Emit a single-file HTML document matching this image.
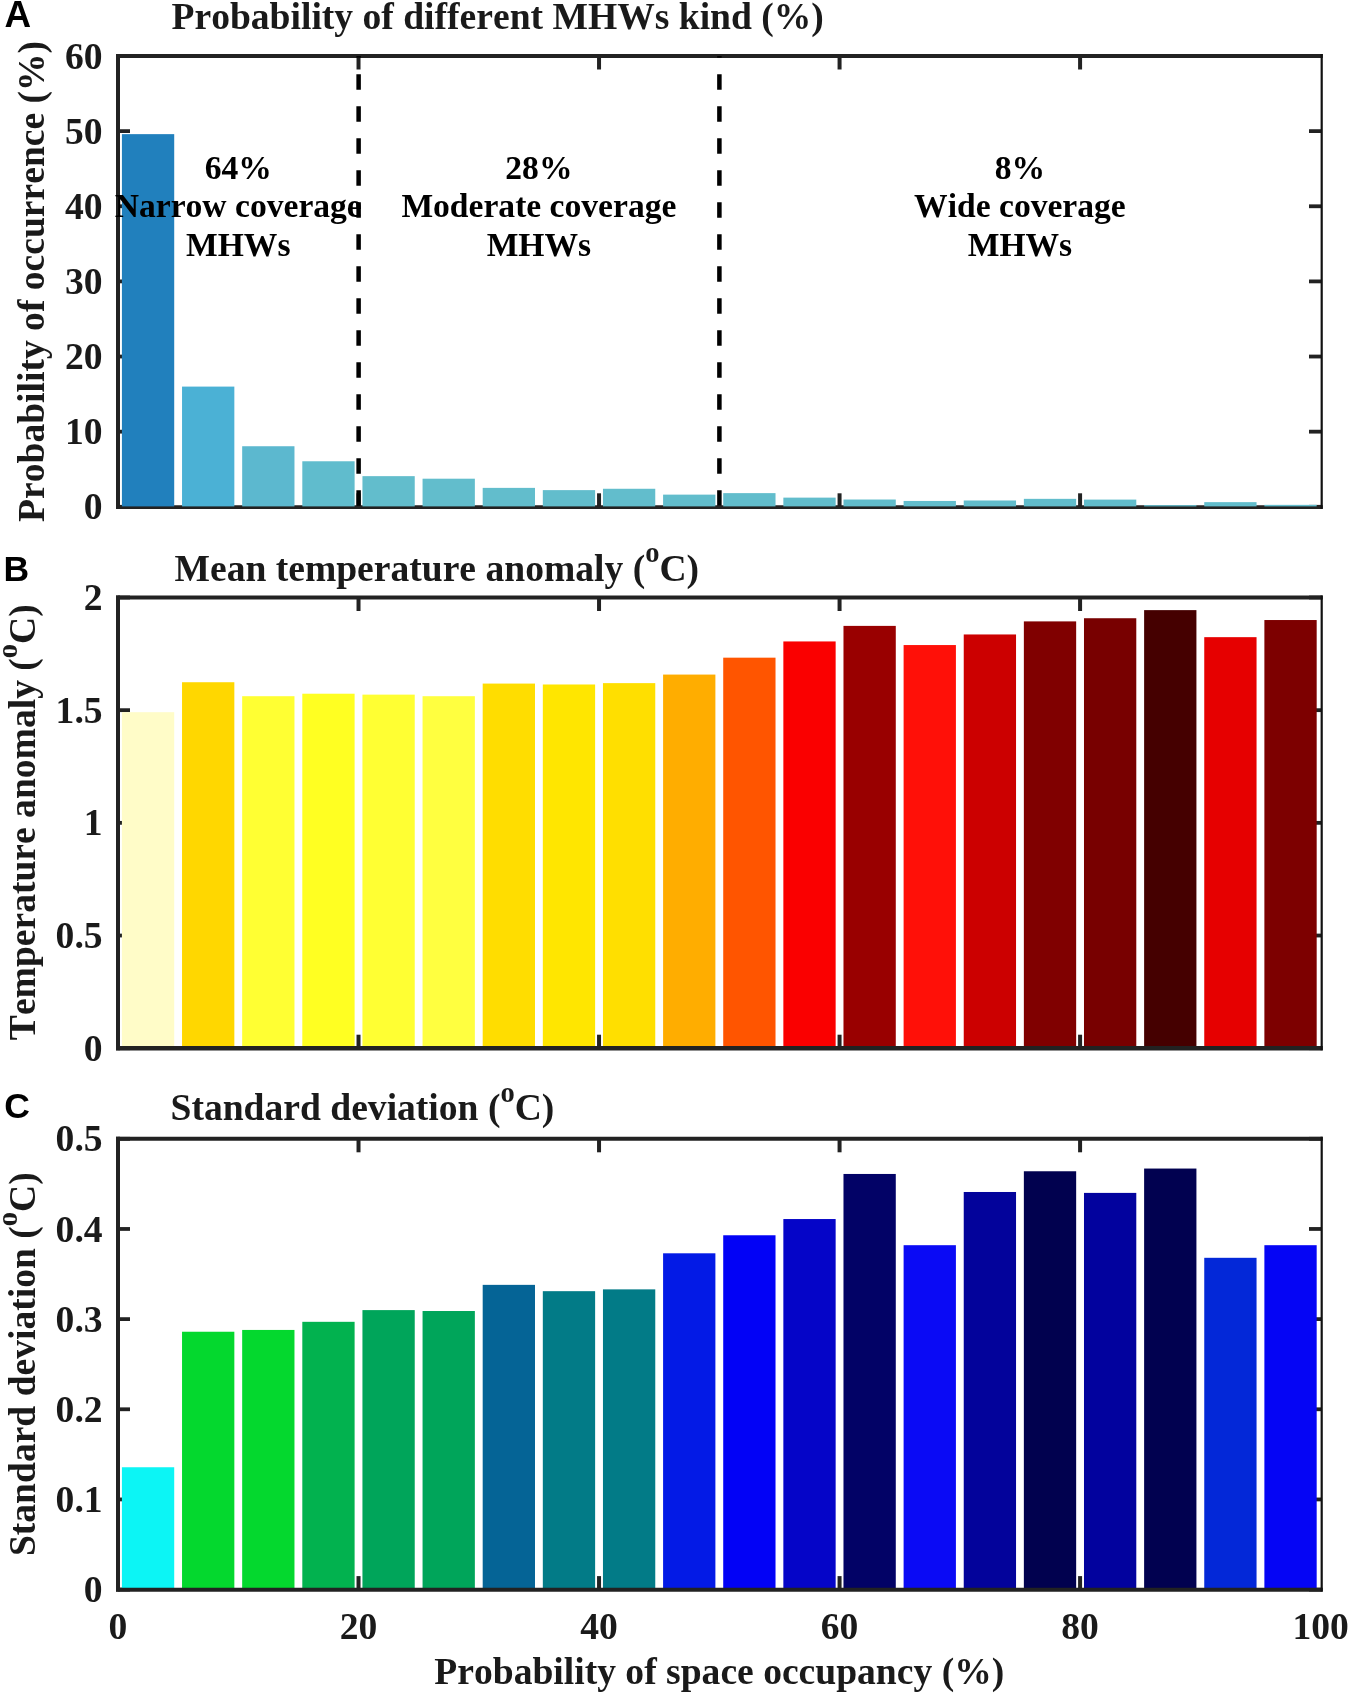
<!DOCTYPE html>
<html><head><meta charset="utf-8"><style>
html,body{margin:0;padding:0;background:#fff;}
svg{display:block;will-change:transform;}
text{font-kerning:none;font-feature-settings:'kern' 0;}
.t{font-family:"Liberation Serif", serif;font-weight:bold;font-size:37.6px;fill:#1a1a1a;}
.a{font-family:"Liberation Serif", serif;font-weight:bold;font-size:33.6px;fill:#000;}
.sup{font-size:28.5px;}
.L{font-family:"Liberation Sans", sans-serif;font-weight:bold;font-size:35.5px;fill:#000;}
</style></head><body>
<svg width="1350" height="1695" viewBox="0 0 1350 1695">
<rect width="1350" height="1695" fill="#fff"/>
<line x1="118.00" y1="506.80" x2="130.00" y2="506.80" stroke="#222222" stroke-width="3.8"/>
<line x1="1321.7" y1="506.80" x2="1309" y2="506.80" stroke="#222222" stroke-width="3.8"/>
<line x1="118.00" y1="431.67" x2="130.00" y2="431.67" stroke="#222222" stroke-width="3.8"/>
<line x1="1321.7" y1="431.67" x2="1309" y2="431.67" stroke="#222222" stroke-width="3.8"/>
<line x1="118.00" y1="356.53" x2="130.00" y2="356.53" stroke="#222222" stroke-width="3.8"/>
<line x1="1321.7" y1="356.53" x2="1309" y2="356.53" stroke="#222222" stroke-width="3.8"/>
<line x1="118.00" y1="281.40" x2="130.00" y2="281.40" stroke="#222222" stroke-width="3.8"/>
<line x1="1321.7" y1="281.40" x2="1309" y2="281.40" stroke="#222222" stroke-width="3.8"/>
<line x1="118.00" y1="206.27" x2="130.00" y2="206.27" stroke="#222222" stroke-width="3.8"/>
<line x1="1321.7" y1="206.27" x2="1309" y2="206.27" stroke="#222222" stroke-width="3.8"/>
<line x1="118.00" y1="131.13" x2="130.00" y2="131.13" stroke="#222222" stroke-width="3.8"/>
<line x1="1321.7" y1="131.13" x2="1309" y2="131.13" stroke="#222222" stroke-width="3.8"/>
<line x1="118.00" y1="56.00" x2="130.00" y2="56.00" stroke="#222222" stroke-width="3.8"/>
<line x1="1321.7" y1="56.00" x2="1309" y2="56.00" stroke="#222222" stroke-width="3.8"/>
<line x1="358.52" y1="506.80" x2="358.52" y2="493.30" stroke="#222222" stroke-width="4"/>
<line x1="358.52" y1="56.00" x2="358.52" y2="69.50" stroke="#222222" stroke-width="4"/>
<line x1="599.04" y1="506.80" x2="599.04" y2="493.30" stroke="#222222" stroke-width="4"/>
<line x1="599.04" y1="56.00" x2="599.04" y2="69.50" stroke="#222222" stroke-width="4"/>
<line x1="839.56" y1="506.80" x2="839.56" y2="493.30" stroke="#222222" stroke-width="4"/>
<line x1="839.56" y1="56.00" x2="839.56" y2="69.50" stroke="#222222" stroke-width="4"/>
<line x1="1080.08" y1="506.80" x2="1080.08" y2="493.30" stroke="#222222" stroke-width="4"/>
<line x1="1080.08" y1="56.00" x2="1080.08" y2="69.50" stroke="#222222" stroke-width="4"/>
<line x1="116.00" y1="507.05" x2="1322.8" y2="507.05" stroke="#222222" stroke-width="3.7"/>
<rect x="121.91" y="134.14" width="52.30" height="372.26" fill="#2180bd"/>
<rect x="182.04" y="386.59" width="52.30" height="119.81" fill="#4bb1d5"/>
<rect x="242.17" y="446.24" width="52.30" height="60.16" fill="#5cb8cf"/>
<rect x="302.31" y="461.27" width="52.30" height="45.13" fill="#60bccd"/>
<rect x="362.44" y="476.15" width="52.30" height="30.25" fill="#62bdcc"/>
<rect x="422.56" y="478.70" width="52.30" height="27.70" fill="#62bdcc"/>
<rect x="482.69" y="487.87" width="52.30" height="18.53" fill="#62bdcc"/>
<rect x="542.82" y="490.12" width="52.30" height="16.28" fill="#62bdcc"/>
<rect x="602.96" y="488.77" width="52.30" height="17.63" fill="#62bdcc"/>
<rect x="663.09" y="494.63" width="52.30" height="11.77" fill="#62bdcc"/>
<rect x="723.22" y="493.13" width="52.30" height="13.27" fill="#62bdcc"/>
<rect x="783.35" y="497.63" width="52.30" height="8.77" fill="#62bdcc"/>
<rect x="843.48" y="499.51" width="52.30" height="6.89" fill="#62bdcc"/>
<rect x="903.61" y="500.94" width="52.30" height="5.46" fill="#62bdcc"/>
<rect x="963.74" y="500.49" width="52.30" height="5.91" fill="#62bdcc"/>
<rect x="1023.86" y="498.84" width="52.30" height="7.56" fill="#62bdcc"/>
<rect x="1083.99" y="499.59" width="52.30" height="6.81" fill="#62bdcc"/>
<rect x="1144.12" y="505.15" width="52.30" height="1.25" fill="#62bdcc"/>
<rect x="1204.25" y="502.14" width="52.30" height="4.26" fill="#62bdcc"/>
<rect x="1264.38" y="504.85" width="52.30" height="1.55" fill="#62bdcc"/>
<line x1="116.00" y1="56.00" x2="1322.8" y2="56.00" stroke="#222222" stroke-width="4"/>
<line x1="118.00" y1="54.00" x2="118.00" y2="508.80" stroke="#222222" stroke-width="4"/>
<line x1="1321.7" y1="54.00" x2="1321.7" y2="508.80" stroke="#111" stroke-width="2.2"/>
<text x="102.6" y="519.40" text-anchor="end" class="t">0</text>
<text x="102.6" y="444.27" text-anchor="end" class="t">10</text>
<text x="102.6" y="369.13" text-anchor="end" class="t">20</text>
<text x="102.6" y="294.00" text-anchor="end" class="t">30</text>
<text x="102.6" y="218.87" text-anchor="end" class="t">40</text>
<text x="102.6" y="143.73" text-anchor="end" class="t">50</text>
<text x="102.6" y="68.60" text-anchor="end" class="t">60</text>
<line x1="118.00" y1="1048.20" x2="130.00" y2="1048.20" stroke="#222222" stroke-width="3.8"/>
<line x1="1321.7" y1="1048.20" x2="1309" y2="1048.20" stroke="#222222" stroke-width="3.8"/>
<line x1="118.00" y1="935.53" x2="130.00" y2="935.53" stroke="#222222" stroke-width="3.8"/>
<line x1="1321.7" y1="935.53" x2="1309" y2="935.53" stroke="#222222" stroke-width="3.8"/>
<line x1="118.00" y1="822.85" x2="130.00" y2="822.85" stroke="#222222" stroke-width="3.8"/>
<line x1="1321.7" y1="822.85" x2="1309" y2="822.85" stroke="#222222" stroke-width="3.8"/>
<line x1="118.00" y1="710.17" x2="130.00" y2="710.17" stroke="#222222" stroke-width="3.8"/>
<line x1="1321.7" y1="710.17" x2="1309" y2="710.17" stroke="#222222" stroke-width="3.8"/>
<line x1="118.00" y1="597.50" x2="130.00" y2="597.50" stroke="#222222" stroke-width="3.8"/>
<line x1="1321.7" y1="597.50" x2="1309" y2="597.50" stroke="#222222" stroke-width="3.8"/>
<line x1="358.52" y1="1048.20" x2="358.52" y2="1034.70" stroke="#222222" stroke-width="4"/>
<line x1="358.52" y1="597.50" x2="358.52" y2="611.00" stroke="#222222" stroke-width="4"/>
<line x1="599.04" y1="1048.20" x2="599.04" y2="1034.70" stroke="#222222" stroke-width="4"/>
<line x1="599.04" y1="597.50" x2="599.04" y2="611.00" stroke="#222222" stroke-width="4"/>
<line x1="839.56" y1="1048.20" x2="839.56" y2="1034.70" stroke="#222222" stroke-width="4"/>
<line x1="839.56" y1="597.50" x2="839.56" y2="611.00" stroke="#222222" stroke-width="4"/>
<line x1="1080.08" y1="1048.20" x2="1080.08" y2="1034.70" stroke="#222222" stroke-width="4"/>
<line x1="1080.08" y1="597.50" x2="1080.08" y2="611.00" stroke="#222222" stroke-width="4"/>
<rect x="121.91" y="712.20" width="52.30" height="334.00" fill="#fffcc8"/>
<rect x="182.04" y="682.23" width="52.30" height="363.97" fill="#ffd700"/>
<rect x="242.17" y="696.20" width="52.30" height="350.00" fill="#ffff33"/>
<rect x="302.31" y="693.72" width="52.30" height="352.48" fill="#ffff22"/>
<rect x="362.44" y="694.63" width="52.30" height="351.57" fill="#ffff33"/>
<rect x="422.56" y="696.20" width="52.30" height="350.00" fill="#ffff40"/>
<rect x="482.69" y="683.58" width="52.30" height="362.62" fill="#ffdd00"/>
<rect x="542.82" y="684.49" width="52.30" height="361.71" fill="#ffe600"/>
<rect x="602.96" y="683.13" width="52.30" height="363.07" fill="#ffdf00"/>
<rect x="663.09" y="674.57" width="52.30" height="371.63" fill="#ffad00"/>
<rect x="723.22" y="657.67" width="52.30" height="388.53" fill="#ff5500"/>
<rect x="783.35" y="641.44" width="52.30" height="404.76" fill="#fa0000"/>
<rect x="843.48" y="625.89" width="52.30" height="420.31" fill="#990000"/>
<rect x="903.61" y="645.05" width="52.30" height="401.15" fill="#ff1008"/>
<rect x="963.74" y="634.46" width="52.30" height="411.74" fill="#cc0000"/>
<rect x="1023.86" y="621.39" width="52.30" height="424.81" fill="#800000"/>
<rect x="1083.99" y="618.23" width="52.30" height="427.97" fill="#780000"/>
<rect x="1144.12" y="610.12" width="52.30" height="436.08" fill="#450000"/>
<rect x="1204.25" y="637.16" width="52.30" height="409.04" fill="#e60000"/>
<rect x="1264.38" y="620.03" width="52.30" height="426.17" fill="#7d0000"/>
<line x1="116.00" y1="597.50" x2="1322.8" y2="597.50" stroke="#222222" stroke-width="4"/>
<line x1="116.00" y1="1048.30" x2="1322.8" y2="1048.30" stroke="#222222" stroke-width="4.4"/>
<line x1="118.00" y1="595.50" x2="118.00" y2="1050.20" stroke="#222222" stroke-width="4"/>
<line x1="1321.7" y1="595.50" x2="1321.7" y2="1050.20" stroke="#111" stroke-width="2.2"/>
<text x="102.6" y="1060.80" text-anchor="end" class="t">0</text>
<text x="102.6" y="948.13" text-anchor="end" class="t">0.5</text>
<text x="102.6" y="835.45" text-anchor="end" class="t">1</text>
<text x="102.6" y="722.77" text-anchor="end" class="t">1.5</text>
<text x="102.6" y="610.10" text-anchor="end" class="t">2</text>
<line x1="118.00" y1="1589.60" x2="130.00" y2="1589.60" stroke="#222222" stroke-width="3.8"/>
<line x1="1321.7" y1="1589.60" x2="1309" y2="1589.60" stroke="#222222" stroke-width="3.8"/>
<line x1="118.00" y1="1499.44" x2="130.00" y2="1499.44" stroke="#222222" stroke-width="3.8"/>
<line x1="1321.7" y1="1499.44" x2="1309" y2="1499.44" stroke="#222222" stroke-width="3.8"/>
<line x1="118.00" y1="1409.28" x2="130.00" y2="1409.28" stroke="#222222" stroke-width="3.8"/>
<line x1="1321.7" y1="1409.28" x2="1309" y2="1409.28" stroke="#222222" stroke-width="3.8"/>
<line x1="118.00" y1="1319.12" x2="130.00" y2="1319.12" stroke="#222222" stroke-width="3.8"/>
<line x1="1321.7" y1="1319.12" x2="1309" y2="1319.12" stroke="#222222" stroke-width="3.8"/>
<line x1="118.00" y1="1228.96" x2="130.00" y2="1228.96" stroke="#222222" stroke-width="3.8"/>
<line x1="1321.7" y1="1228.96" x2="1309" y2="1228.96" stroke="#222222" stroke-width="3.8"/>
<line x1="118.00" y1="1138.80" x2="130.00" y2="1138.80" stroke="#222222" stroke-width="3.8"/>
<line x1="1321.7" y1="1138.80" x2="1309" y2="1138.80" stroke="#222222" stroke-width="3.8"/>
<line x1="358.52" y1="1589.60" x2="358.52" y2="1576.10" stroke="#222222" stroke-width="4"/>
<line x1="358.52" y1="1138.80" x2="358.52" y2="1152.30" stroke="#222222" stroke-width="4"/>
<line x1="599.04" y1="1589.60" x2="599.04" y2="1576.10" stroke="#222222" stroke-width="4"/>
<line x1="599.04" y1="1138.80" x2="599.04" y2="1152.30" stroke="#222222" stroke-width="4"/>
<line x1="839.56" y1="1589.60" x2="839.56" y2="1576.10" stroke="#222222" stroke-width="4"/>
<line x1="839.56" y1="1138.80" x2="839.56" y2="1152.30" stroke="#222222" stroke-width="4"/>
<line x1="1080.08" y1="1589.60" x2="1080.08" y2="1576.10" stroke="#222222" stroke-width="4"/>
<line x1="1080.08" y1="1138.80" x2="1080.08" y2="1152.30" stroke="#222222" stroke-width="4"/>
<rect x="121.91" y="1467.25" width="52.30" height="120.75" fill="#0cf5f5"/>
<rect x="182.04" y="1331.74" width="52.30" height="256.26" fill="#04d82e"/>
<rect x="242.17" y="1329.94" width="52.30" height="258.06" fill="#04d82e"/>
<rect x="302.31" y="1321.82" width="52.30" height="266.18" fill="#02b24f"/>
<rect x="362.44" y="1310.10" width="52.30" height="277.90" fill="#00a55a"/>
<rect x="422.56" y="1311.01" width="52.30" height="276.99" fill="#00a55a"/>
<rect x="482.69" y="1284.86" width="52.30" height="303.14" fill="#056496"/>
<rect x="542.82" y="1291.17" width="52.30" height="296.83" fill="#027b87"/>
<rect x="602.96" y="1289.37" width="52.30" height="298.63" fill="#027b87"/>
<rect x="663.09" y="1253.30" width="52.30" height="334.70" fill="#031ae6"/>
<rect x="723.22" y="1235.27" width="52.30" height="352.73" fill="#0202f6"/>
<rect x="783.35" y="1219.04" width="52.30" height="368.96" fill="#0505c8"/>
<rect x="843.48" y="1173.96" width="52.30" height="414.04" fill="#020266"/>
<rect x="903.61" y="1245.19" width="52.30" height="342.81" fill="#0a0af5"/>
<rect x="963.74" y="1191.99" width="52.30" height="396.01" fill="#03039b"/>
<rect x="1023.86" y="1171.26" width="52.30" height="416.74" fill="#01014f"/>
<rect x="1083.99" y="1192.90" width="52.30" height="395.10" fill="#02029e"/>
<rect x="1144.12" y="1168.55" width="52.30" height="419.45" fill="#010150"/>
<rect x="1204.25" y="1257.81" width="52.30" height="330.19" fill="#0328d8"/>
<rect x="1264.38" y="1245.19" width="52.30" height="342.81" fill="#0505f5"/>
<line x1="116.00" y1="1138.80" x2="1322.8" y2="1138.80" stroke="#222222" stroke-width="4"/>
<line x1="116.00" y1="1589.85" x2="1322.8" y2="1589.85" stroke="#222222" stroke-width="4.0"/>
<line x1="118.00" y1="1136.80" x2="118.00" y2="1591.60" stroke="#222222" stroke-width="4"/>
<line x1="1321.7" y1="1136.80" x2="1321.7" y2="1591.60" stroke="#111" stroke-width="2.2"/>
<text x="102.6" y="1602.20" text-anchor="end" class="t">0</text>
<text x="102.6" y="1512.04" text-anchor="end" class="t">0.1</text>
<text x="102.6" y="1421.88" text-anchor="end" class="t">0.2</text>
<text x="102.6" y="1331.72" text-anchor="end" class="t">0.3</text>
<text x="102.6" y="1241.56" text-anchor="end" class="t">0.4</text>
<text x="102.6" y="1151.40" text-anchor="end" class="t">0.5</text>
<line x1="358.62" y1="56.00" x2="358.62" y2="506.30" stroke="#000" stroke-width="4.5" stroke-dasharray="15.5 16.5" stroke-dashoffset="13.7"/>
<line x1="719.40" y1="56.00" x2="719.40" y2="506.30" stroke="#000" stroke-width="4.5" stroke-dasharray="15.5 16.5" stroke-dashoffset="13.7"/>
<text x="118.00" y="1638.9" text-anchor="middle" class="t">0</text>
<text x="358.52" y="1638.9" text-anchor="middle" class="t">20</text>
<text x="599.04" y="1638.9" text-anchor="middle" class="t">40</text>
<text x="839.56" y="1638.9" text-anchor="middle" class="t">60</text>
<text x="1080.08" y="1638.9" text-anchor="middle" class="t">80</text>
<text x="1320.60" y="1638.9" text-anchor="middle" class="t">100</text>
<text x="719.30" y="1684" text-anchor="middle" class="t">Probability of space occupancy (%)</text>
<text x="4.4" y="26.9" class="L" style="font-size:36.8px">A</text>
<text x="3.4" y="580.9" class="L">B</text>
<text x="4.2" y="1117.5" class="L">C</text>
<text x="171.5" y="28.8" class="t">Probability of different MHWs kind (%)</text>
<text x="174.5" y="580.7" class="t">Mean temperature anomaly (<tspan class="sup" dy="-18.5">o</tspan><tspan dy="18.5">C)</tspan></text>
<text x="170.5" y="1120.4" class="t">Standard deviation (<tspan class="sup" dy="-18.5">o</tspan><tspan dy="18.5">C)</tspan></text>
<text transform="translate(44.2,281.4) rotate(-90)" x="0" y="0" text-anchor="middle" class="t">Probability of occurrence (%)</text>
<text transform="translate(35.2,822.2) rotate(-90)" x="0" y="0" text-anchor="middle" class="t">Temperature anomaly (<tspan class="sup" dy="-18.5">o</tspan><tspan dy="18.5">C)</tspan></text>
<text transform="translate(35.2,1364.2) rotate(-90)" x="0" y="0" text-anchor="middle" class="t">Standard deviation (<tspan class="sup" dy="-18.5">o</tspan><tspan dy="18.5">C)</tspan></text>
<text x="238.26" y="178.9" text-anchor="middle" class="a">64%</text>
<text x="238.26" y="216.9" text-anchor="middle" class="a">Narrow coverage</text>
<text x="238.26" y="255.6" text-anchor="middle" class="a">MHWs</text>
<text x="538.91" y="178.9" text-anchor="middle" class="a">28%</text>
<text x="538.91" y="216.9" text-anchor="middle" class="a">Moderate coverage</text>
<text x="538.91" y="255.6" text-anchor="middle" class="a">MHWs</text>
<text x="1019.95" y="178.9" text-anchor="middle" class="a">8%</text>
<text x="1019.95" y="216.9" text-anchor="middle" class="a">Wide coverage</text>
<text x="1019.95" y="255.6" text-anchor="middle" class="a">MHWs</text>
</svg>
</body></html>
